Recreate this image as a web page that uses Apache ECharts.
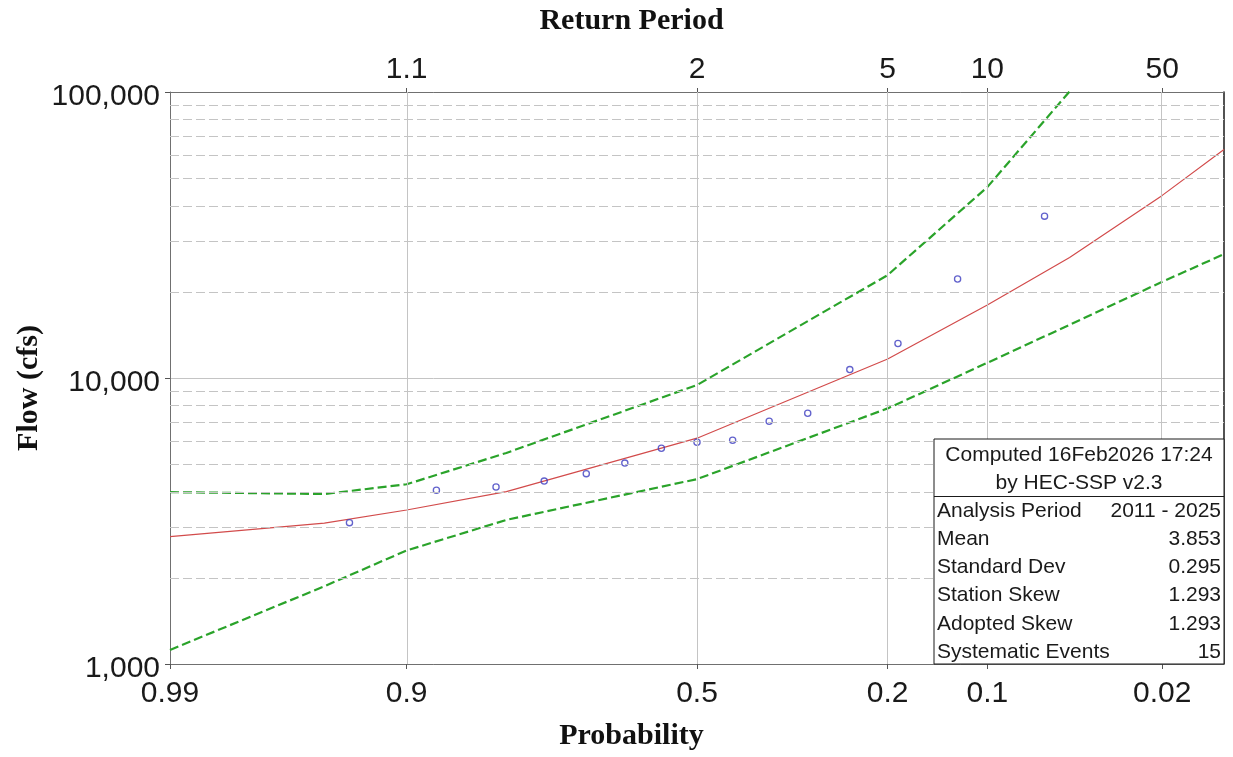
<!DOCTYPE html>
<html>
<head>
<meta charset="utf-8">
<title>Flow Frequency Curve</title>
<script src="https://cdn.jsdelivr.net/npm/echarts@6/dist/echarts.min.js"></script>
<style>
  html, body { margin: 0; padding: 0; background: #ffffff; }
  #chart { width: 1233px; height: 757px; }
</style>
</head>
<body>
<div id="chart"></div>
<script>
// Exceedance probabilities at which the frequency curve and confidence limits are tabulated
const ordinateProb = [0.99, 0.95, 0.9, 0.8, 0.5, 0.2, 0.1, 0.05, 0.02, 0.01];
// Computed curve (cfs)
const computedFlow = [2790, 3110, 3455, 4005, 6160, 11650, 18000, 26400, 43500, 62900];
// 0.05 and 0.95 confidence limits (cfs)
const upperLimitFlow = [3990, 3930, 4250, 5470, 9450, 22900, 46500, 100500, null, null];
const lowerLimitFlow = [1120, 1870, 2495, 3190, 4430, 7830, 11300, 15350, 21700, 27100];

// Observed annual peaks and their plotting positions
const eventProb = [0.0625, 0.125, 0.1875, 0.25, 0.3125, 0.375, 0.4375, 0.5,
                   0.5625, 0.625, 0.6875, 0.75, 0.8125, 0.875, 0.9375];
const eventFlow = [36800, 22200, 13200, 10700, 7530, 7060, 6060, 5960,
                   5680, 5040, 4630, 4360, 4160, 4050, 3120];

// Axis ticks
const probTicks = [0.99, 0.9, 0.5, 0.2, 0.1, 0.02];
const probTickLabels = ['0.99', '0.9', '0.5', '0.2', '0.1', '0.02'];
const returnTickProb = [0.9, 0.5, 0.2, 0.1, 0.02];
const returnTickLabels = ['1.1', '2', '5', '10', '50'];
const probGridLines = [0.9, 0.5, 0.2, 0.1, 0.02];
const flowMinorLines = [2000, 3000, 4000, 5000, 6000, 7000, 8000, 9000,
                        20000, 30000, 40000, 50000, 60000, 70000, 80000, 90000];
const plotProbRange = [0.99, 0.01];
const flowRange = [1000, 100000];

// Statistics table
const statsHeader = ['Computed 16Feb2026 17:24', 'by HEC-SSP v2.3'];
const statsLabels = ['Analysis Period', 'Mean', 'Standard Dev', 'Station Skew', 'Adopted Skew', 'Systematic Events'];
const statsValues = ['2011 - 2025', '3.853', '0.295', '1.293', '1.293', '15'];

// Inverse standard normal CDF (Acklam's rational approximation)
function normInv(p) {
  const a = [-3.969683028665376e+01, 2.209460984245205e+02, -2.759285104469687e+02,
             1.383577518672690e+02, -3.066479806614716e+01, 2.506628277459239e+00];
  const b = [-5.447609879822406e+01, 1.615858368580409e+02, -1.556989798598866e+02,
             6.680131188771972e+01, -1.328068155288572e+01];
  const c = [-7.784894002430293e-03, -3.223964580411365e-01, -2.400758277161838e+00,
             -2.549732539343734e+00, 4.374664141464968e+00, 2.938163982698783e+00];
  const d = [7.784695709041462e-03, 3.224671290700398e-01, 2.445134137142996e+00,
             3.754408661907416e+00];
  const pl = 0.02425, ph = 1 - pl;
  let q, r;
  if (p < pl) {
    q = Math.sqrt(-2 * Math.log(p));
    return (((((c[0]*q + c[1])*q + c[2])*q + c[3])*q + c[4])*q + c[5]) /
           ((((d[0]*q + d[1])*q + d[2])*q + d[3])*q + 1);
  }
  if (p > ph) {
    q = Math.sqrt(-2 * Math.log(1 - p));
    return -(((((c[0]*q + c[1])*q + c[2])*q + c[3])*q + c[4])*q + c[5]) /
            ((((d[0]*q + d[1])*q + d[2])*q + d[3])*q + 1);
  }
  q = p - 0.5; r = q * q;
  return (((((a[0]*r + a[1])*r + a[2])*r + a[3])*r + a[4])*r + a[5]) * q /
         (((((b[0]*r + b[1])*r + b[2])*r + b[3])*r + b[4])*r + 1);
}
// Exceedance probability -> normal-probability axis coordinate
function probToX(p) { return normInv(1 - p); }

function labelFor(value, probs, labels) {
  for (let i = 0; i < probs.length; i++) {
    if (Math.abs(probToX(probs[i]) - value) < 1e-6) return labels[i];
  }
  return '';
}

const pairs = (probs, flows) => probs.map((p, i) => [probToX(p), flows[i]]);

const sansFont = "'Liberation Sans', Arial, sans-serif";
const serifFont = "'Liberation Serif', 'Times New Roman', serif";
const gridColor = '#c4c4c4';
const inkColor = '#1a1a1a';

const chart = echarts.init(document.getElementById('chart'), null, { renderer: 'canvas' });

// statistics box in the lower-right corner of the plot
const boxLeft = 934, boxTop = 439, boxRight = 1224, boxBottom = 664;
const tableChildren = [
  { type: 'rect', z: 100, shape: { x: boxLeft, y: boxTop, width: boxRight - boxLeft, height: boxBottom - boxTop },
    style: { fill: '#ffffff', stroke: inkColor, lineWidth: 1 } },
  { type: 'line', z: 101, shape: { x1: boxLeft, y1: 496.5, x2: boxRight, y2: 496.5 },
    style: { stroke: inkColor, lineWidth: 1 } }
];
statsHeader.forEach((t, i) => {
  tableChildren.push({ type: 'text', z: 101, x: (boxLeft + boxRight) / 2, y: 455 + i * 28.3,
    style: { text: t, font: '21px ' + sansFont, fill: inkColor, align: 'center', verticalAlign: 'middle' } });
});
statsLabels.forEach((t, i) => {
  tableChildren.push({ type: 'text', z: 101, x: 937, y: 511 + i * 28.2,
    style: { text: t, font: '21px ' + sansFont, fill: inkColor, align: 'left', verticalAlign: 'middle' } });
  tableChildren.push({ type: 'text', z: 101, x: 1221, y: 511 + i * 28.2,
    style: { text: statsValues[i], font: '21px ' + sansFont, fill: inkColor, align: 'right', verticalAlign: 'middle' } });
});

const option = {
  backgroundColor: '#ffffff',
  animation: false,
  grid: { left: 170, right: 9, top: 92, bottom: 93, containLabel: false },
  xAxis: [
    {
      type: 'value', position: 'bottom',
      min: probToX(plotProbRange[0]), max: probToX(plotProbRange[1]),
      axisLine: { show: true, onZero: false, lineStyle: { color: '#707070', width: 1 } },
      axisTick: { show: true, length: 5, lineStyle: { color: '#555555' },
                  customValues: probTicks.map(probToX) },
      axisLabel: { show: true, margin: 15, fontSize: 30, fontFamily: sansFont, color: inkColor,
                   customValues: probTicks.map(probToX),
                   formatter: v => labelFor(v, probTicks, probTickLabels) },
      splitLine: { show: false }
    },
    {
      type: 'value', position: 'top',
      min: probToX(plotProbRange[0]), max: probToX(plotProbRange[1]),
      axisLine: { show: true, onZero: false, lineStyle: { color: '#707070', width: 1 } },
      axisTick: { show: true, length: 4, lineStyle: { color: '#555555' },
                  customValues: returnTickProb.map(probToX) },
      axisLabel: { show: true, margin: 7, fontSize: 30, fontFamily: sansFont, color: inkColor,
                   customValues: returnTickProb.map(probToX),
                   formatter: v => labelFor(v, returnTickProb, returnTickLabels) },
      splitLine: { show: false }
    }
  ],
  yAxis: [
    {
      type: 'log', logBase: 10, position: 'left',
      min: flowRange[0], max: flowRange[1],
      axisLine: { show: true, onZero: false, lineStyle: { color: '#707070', width: 1 } },
      axisTick: { show: true, length: 5, lineStyle: { color: '#555555' } },
      axisLabel: { show: true, margin: 10, color: inkColor,
                   formatter: v => '{f|' + Math.round(v).toLocaleString('en-US') + '}',
                   rich: { f: { fontSize: 30, fontFamily: sansFont, color: inkColor, padding: [9, 0, 0, 0] } } },
      splitLine: { show: true, lineStyle: { color: gridColor, width: 1, type: 'solid' } },
      minorTick: { show: false }, minorSplitLine: { show: false }
    },
    {
      type: 'log', logBase: 10, position: 'right',
      min: flowRange[0], max: flowRange[1],
      axisLine: { show: true, onZero: false, lineStyle: { color: inkColor, width: 1.5 } },
      axisTick: { show: false }, axisLabel: { show: false }, splitLine: { show: false }
    }
  ],
  graphic: [
    { type: 'text', x: 631.5, y: 21.5, z: 50,
      style: { text: 'Return Period', font: 'bold 30px ' + serifFont, fill: '#111111',
               align: 'center', verticalAlign: 'middle' } },
    { type: 'text', x: 631.5, y: 736.5, z: 50,
      style: { text: 'Probability', font: 'bold 30px ' + serifFont, fill: '#111111',
               align: 'center', verticalAlign: 'middle' } },
    { type: 'text', x: 29, y: 388, rotation: Math.PI / 2, z: 50,
      style: { text: 'Flow (cfs)', font: 'bold 30px ' + serifFont, fill: '#111111',
               align: 'center', verticalAlign: 'middle' } },
    { type: 'group', z: 100, children: tableChildren }
  ],
  series: [
    {
      // background grid lines for the probability and flow scales
      name: 'grid', type: 'line', data: [], z: 1, silent: true,
      markLine: {
        silent: true, symbol: ['none', 'none'], label: { show: false }, animation: false,
        data: [
          ...probGridLines.map(p => ({ xAxis: probToX(p), lineStyle: { color: gridColor, width: 1, type: 'solid' } })),
          ...flowMinorLines.map(f => ({ yAxis: f, lineStyle: { color: gridColor, width: 1, type: [9, 4] } }))
        ]
      }
    },
    {
      name: 'Computed Curve', type: 'line', data: pairs(ordinateProb, computedFlow),
      showSymbol: false, symbol: 'none', z: 3,
      lineStyle: { color: '#d24b4b', width: 1.2 }
    },
    {
      name: '0.05', type: 'line', data: pairs(ordinateProb, upperLimitFlow),
      showSymbol: false, symbol: 'none', z: 3, clip: true,
      lineStyle: { color: '#2aa32a', width: 2.2, type: [9, 4] }
    },
    {
      name: '0.95', type: 'line', data: pairs(ordinateProb, lowerLimitFlow),
      showSymbol: false, symbol: 'none', z: 3, clip: true,
      lineStyle: { color: '#2aa32a', width: 2.2, type: [9, 4] }
    },
    {
      name: 'Observed Events', type: 'scatter', data: pairs(eventProb, eventFlow),
      symbol: 'circle', symbolSize: 6.2, z: 4,
      itemStyle: { color: 'rgba(255,255,255,0)', borderColor: '#3b3bbf', borderWidth: 1.3 }
    }
  ]
};

chart.setOption(option);
</script>
</body>
</html>
